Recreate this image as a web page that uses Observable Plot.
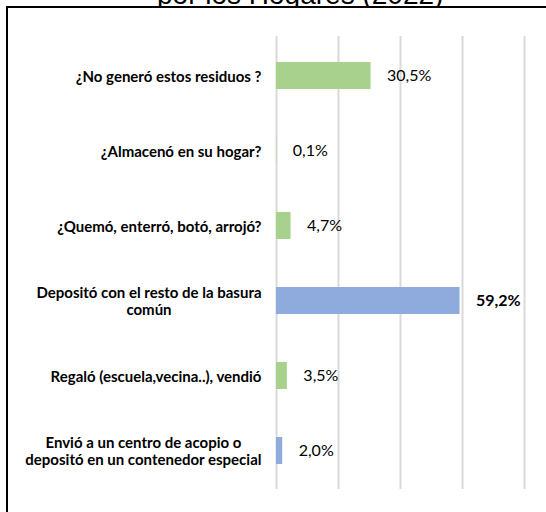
<!DOCTYPE html>
<html><head><meta charset="utf-8">
<script src="https://cdn.jsdelivr.net/npm/d3@7"></script>
<script src="https://cdn.jsdelivr.net/npm/@observablehq/plot@0.6"></script>
<style>
html,body{margin:0;padding:0;background:#fff;}
body{width:546px;height:512px;overflow:hidden;position:relative;}
#title{position:absolute;left:157px;top:-21px;font-family:"Liberation Sans",Arial,sans-serif;font-size:28px;white-space:nowrap;color:#000;line-height:normal;}
#box{position:absolute;left:6px;top:6px;width:570px;height:540px;border:2px solid #000;background:#fff;box-sizing:border-box;}
#chart{position:absolute;left:0;top:0;}
</style></head><body>
<div id="title">por los Hogares (2022)</div>
<div id="box"><div id="chart"></div></div>
<script>
const categories = [
  "¿No generó estos residuos ?",
  "¿Almacenó en su hogar?",
  "¿Quemó, enterró, botó, arrojó?",
  "Depositó con el resto de la basura\ncomún",
  "Regaló (escuela,vecina..), vendió",
  "Envió a un centro de acopio o\ndepositó en un contenedor especial"
];
const values = [30.5, 0.1, 4.7, 59.2, 3.5, 2.0];
const groups = ["verde", "verde", "verde", "azul", "verde", "azul"];
const xTicks = [0, 20, 40, 60, 80];

const data = categories.map((c, i) => ({category: c, value: values[i], group: groups[i]}));
const maxValue = d3.max(values);
const fmt = v => v.toFixed(1).replace(".", ",") + "%";

const svg = Plot.plot({
  width: 538,
  height: 504,
  marginLeft: 268,
  marginRight: 22,
  marginTop: 28,
  marginBottom: 23,
  style: {fontFamily: "Lato, 'Liberation Sans', sans-serif", background: "#fff", color: "#000"},
  x: {domain: [0, 80], axis: null},
  y: {domain: categories, axis: null, paddingInner: 0.64, paddingOuter: 0.32},
  color: {domain: ["verde", "azul"], range: ["#a9d18e", "#8faadc"]},
  marks: [
    Plot.gridX(xTicks, {stroke: "#d9d9d9", strokeOpacity: 1, strokeWidth: 2}),
    Plot.barX(data, {x: "value", y: "category", fill: "group"}),
    Plot.text(data.filter(d => d.value !== maxValue), {x: "value", y: "category", text: d => fmt(d.value), dx: 16, textAnchor: "start", fontSize: 16, fill: "#000"}),
    Plot.text(data.filter(d => d.value === maxValue), {x: "value", y: "category", text: d => fmt(d.value), dx: 16, textAnchor: "start", fontSize: 16, fontWeight: "bold", fill: "#000"}),
    Plot.text(data, {y: "category", text: "category", frameAnchor: "left", dx: -15, textAnchor: "end", fontSize: 15, fontWeight: "bold", lineHeight: 1.15, fill: "#000"})
  ]
});
document.getElementById("chart").appendChild(svg);

// center multi-line category labels within their right-aligned block
svg.querySelectorAll("text").forEach(t => {
  const spans = t.querySelectorAll("tspan");
  if (spans.length > 1) {
    const widths = Array.from(spans, s => s.getComputedTextLength());
    const W = Math.max(...widths);
    spans.forEach((s, i) => s.setAttribute("x", -(W - widths[i]) / 2));
  }
});
</script>
</body></html>
